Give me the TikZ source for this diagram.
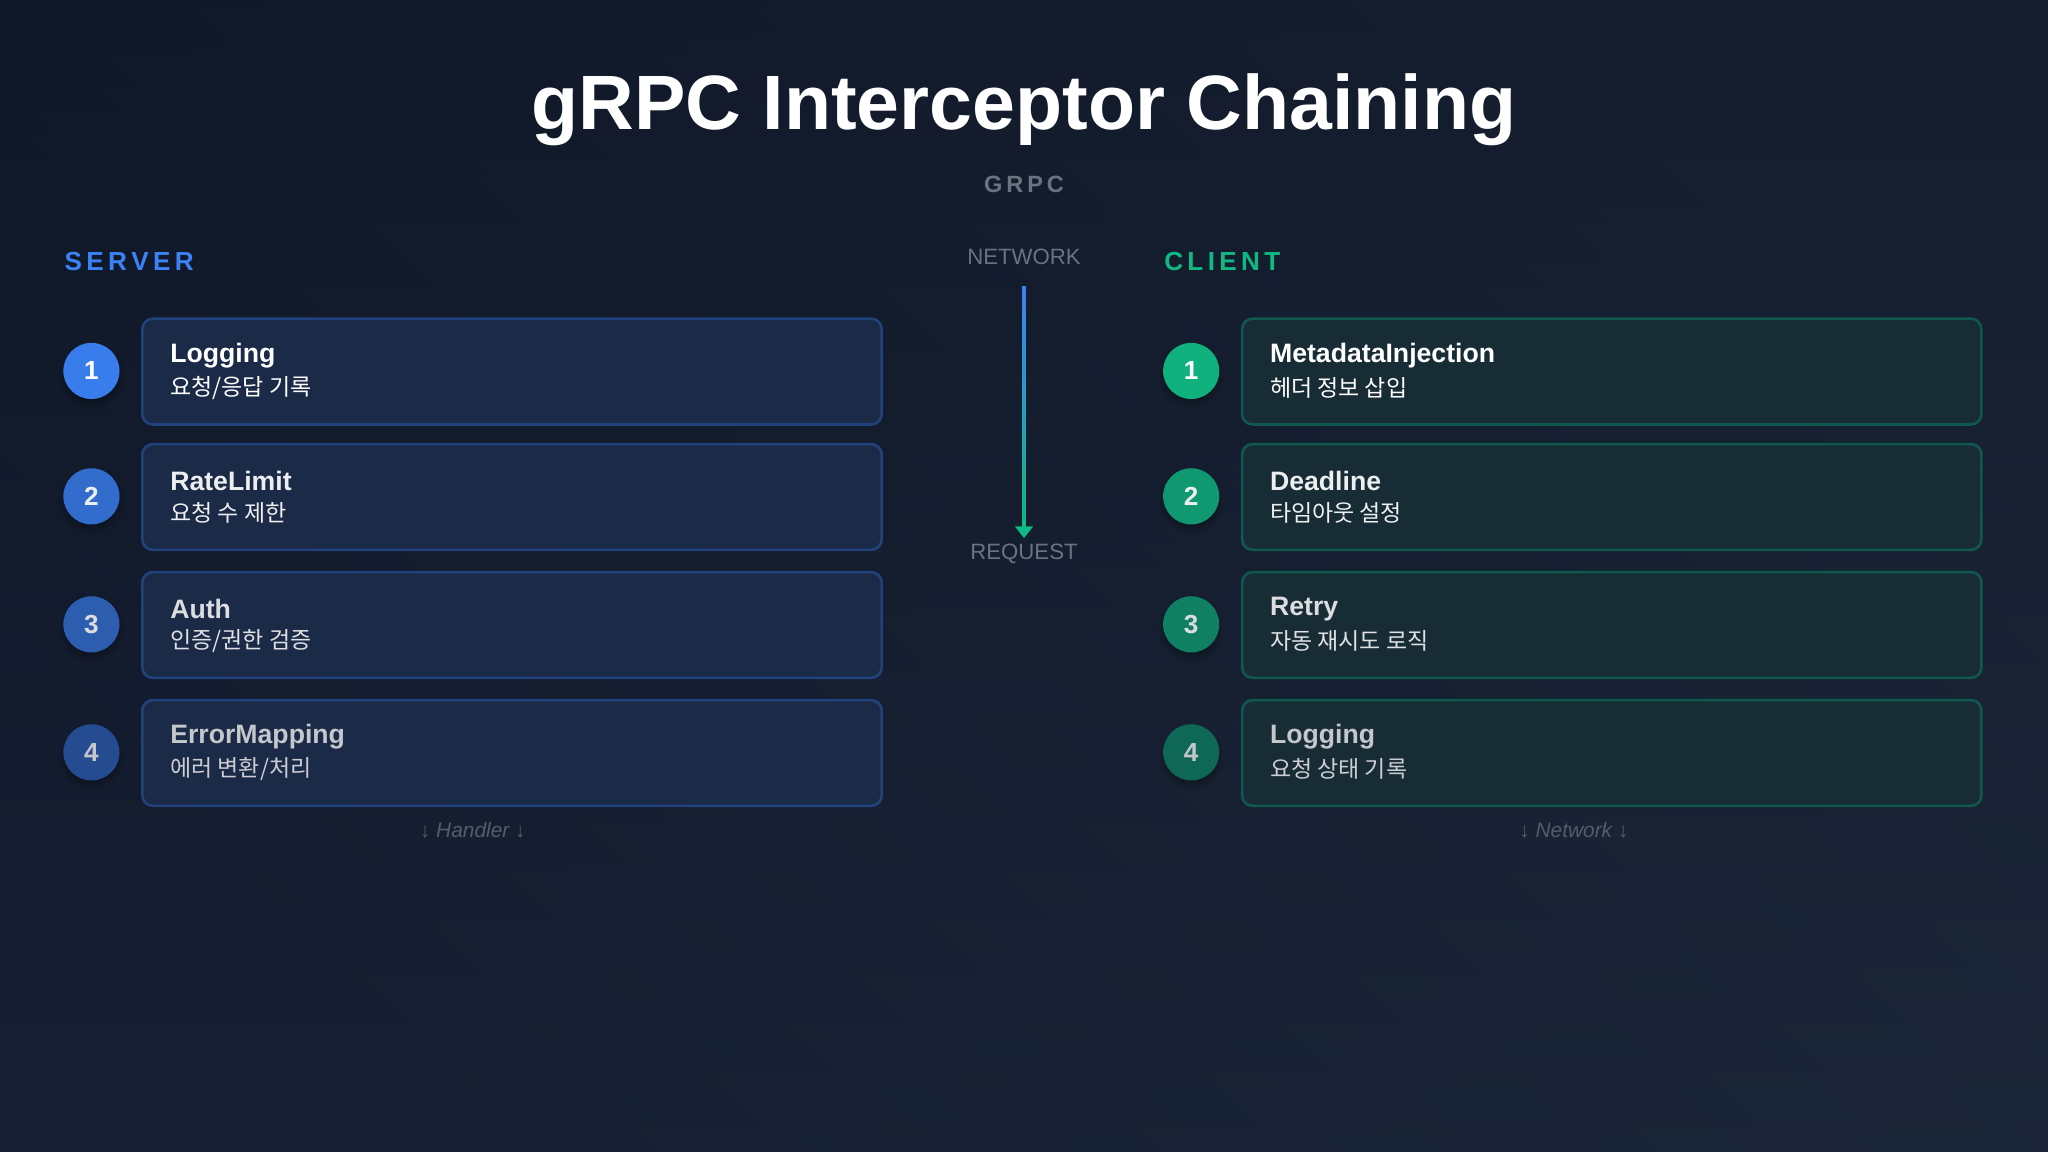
\documentclass[tikz,border=0pt]{standalone}
\usepackage{fontspec}
\setmainfont{Liberation Sans}
\newfontfamily\kr{Noto Sans CJK KR}
\usetikzlibrary{arrows.meta,shadows.blur}
\definecolor{bgA}{HTML}{0F172A}
\definecolor{bgB}{HTML}{1E293B}
\definecolor{blu}{HTML}{3B82F6}
\definecolor{grn}{HTML}{10B981}
\definecolor{gtxt}{HTML}{6B7280}
\definecolor{sboxf}{HTML}{1B2A47}
\definecolor{cboxf}{HTML}{182C36}
\tikzset{
 box/.style={draw=#1,line width=1pt,rounded corners=4pt,minimum width=283pt,minimum height=40.5pt,anchor=north west,inner sep=0pt},
 num/.style={circle,minimum size=21.5pt,inner sep=0pt,font=\bfseries\fontsize{10}{12}\selectfont,blur shadow={shadow blur steps=6,shadow xshift=0pt,shadow yshift=-2pt,shadow opacity=30}},
 ttl/.style={anchor=west,inner sep=0pt,font=\bfseries\fontsize{10.2}{12}\selectfont},
 sub/.style={anchor=west,inner sep=0pt,font=\kr\fontsize{8.8}{11}\selectfont},
 lab/.style={font=\fontsize{8.5}{10}\selectfont,text=gtxt},
}
\begin{document}
\begin{tikzpicture}[x=0.5pt,y=-0.5pt]
\shade[left color=bgA,right color=bgB,shading angle=135] (0,0) rectangle (1568,882);
\shade[top color=bgA!80!black,bottom color=bgB,opacity=0.5] (0,0) rectangle (1568,882);
\useasboundingbox (0,0) rectangle (1568,882);
\node (title) at (784,84) {\bfseries\fontsize{29.5}{34}\selectfont\color{white}gRPC Interceptor Chaining};
\node[lab,font=\bfseries\fontsize{9}{10}\selectfont] (sub) at (784,141) {G\,R\,P\,C};
\node[anchor=west,inner sep=0pt,text=blu,font=\bfseries\fontsize{10}{12}\selectfont] (srv) at (49,200) {S\,E\,R\,V\,E\,R};
\node[anchor=west,inner sep=0pt,text=grn,font=\bfseries\fontsize{10}{12}\selectfont] (cli) at (891,200) {C\,L\,I\,E\,N\,T};
\node[lab] (net) at (784,197) {NETWORK};
\node[lab] (req) at (784,424) {REQUEST};
\coordinate (a1) at (784,219); \coordinate (a2) at (784,412);
\shade[top color=blu,bottom color=grn] (782.5,219) rectangle (785.5,404);
\fill[grn] (777,403) -- (791,403) -- (a2) -- cycle;
\foreach \i/\y/\t/\s/\o/\c in {1/243/Logging/요청\slash 응답 기록/100/95,2/339/RateLimit/요청 수 제한/88/80,3/437/Auth/인증\slash 권한 검증/76/65,4/535/ErrorMapping/에러 변환\slash 처리/60/50}{
  \node[box=blu!40!bgA,fill=sboxf] (s\i) at (108,\y) {};
  \node[num,fill=blu!\c!bgA,text=white!\o!gtxt] (sn\i) at (70,\y+41) {\i};
  \node[ttl,text=white!\o!gtxt] (st\i) at (130,\y+29) {\t};
  \node[sub,text=white!\o!gtxt!88!white] (ss\i) at (130,\y+54) {\s};
}
\foreach \i/\y/\t/\s/\o/\c in {1/243/MetadataInjection/헤더 정보 삽입/100/95,2/339/Deadline/타임아웃 설정/88/80,3/437/Retry/자동 재시도 로직/76/65,4/535/Logging/요청 상태 기록/60/50}{
  \node[box=grn!40!bgA,fill=cboxf] (c\i) at (950,\y) {};
  \node[num,fill=grn!\c!bgA,text=white!\o!gtxt] (cn\i) at (912,\y+41) {\i};
  \node[ttl,text=white!\o!gtxt] (ct\i) at (972,\y+29) {\t};
  \node[sub,text=white!\o!gtxt!88!white] (cs\i) at (972,\y+54) {\s};
}
\node[lab,text=gtxt!70!bgB,font=\itshape\fontsize{8}{10}\selectfont] (hf) at (362,636) {↓ Handler ↓};
\node[lab,text=gtxt!70!bgB,font=\itshape\fontsize{8}{10}\selectfont] (nf) at (1205,636) {↓ Network ↓};
\end{tikzpicture}
\end{document}
